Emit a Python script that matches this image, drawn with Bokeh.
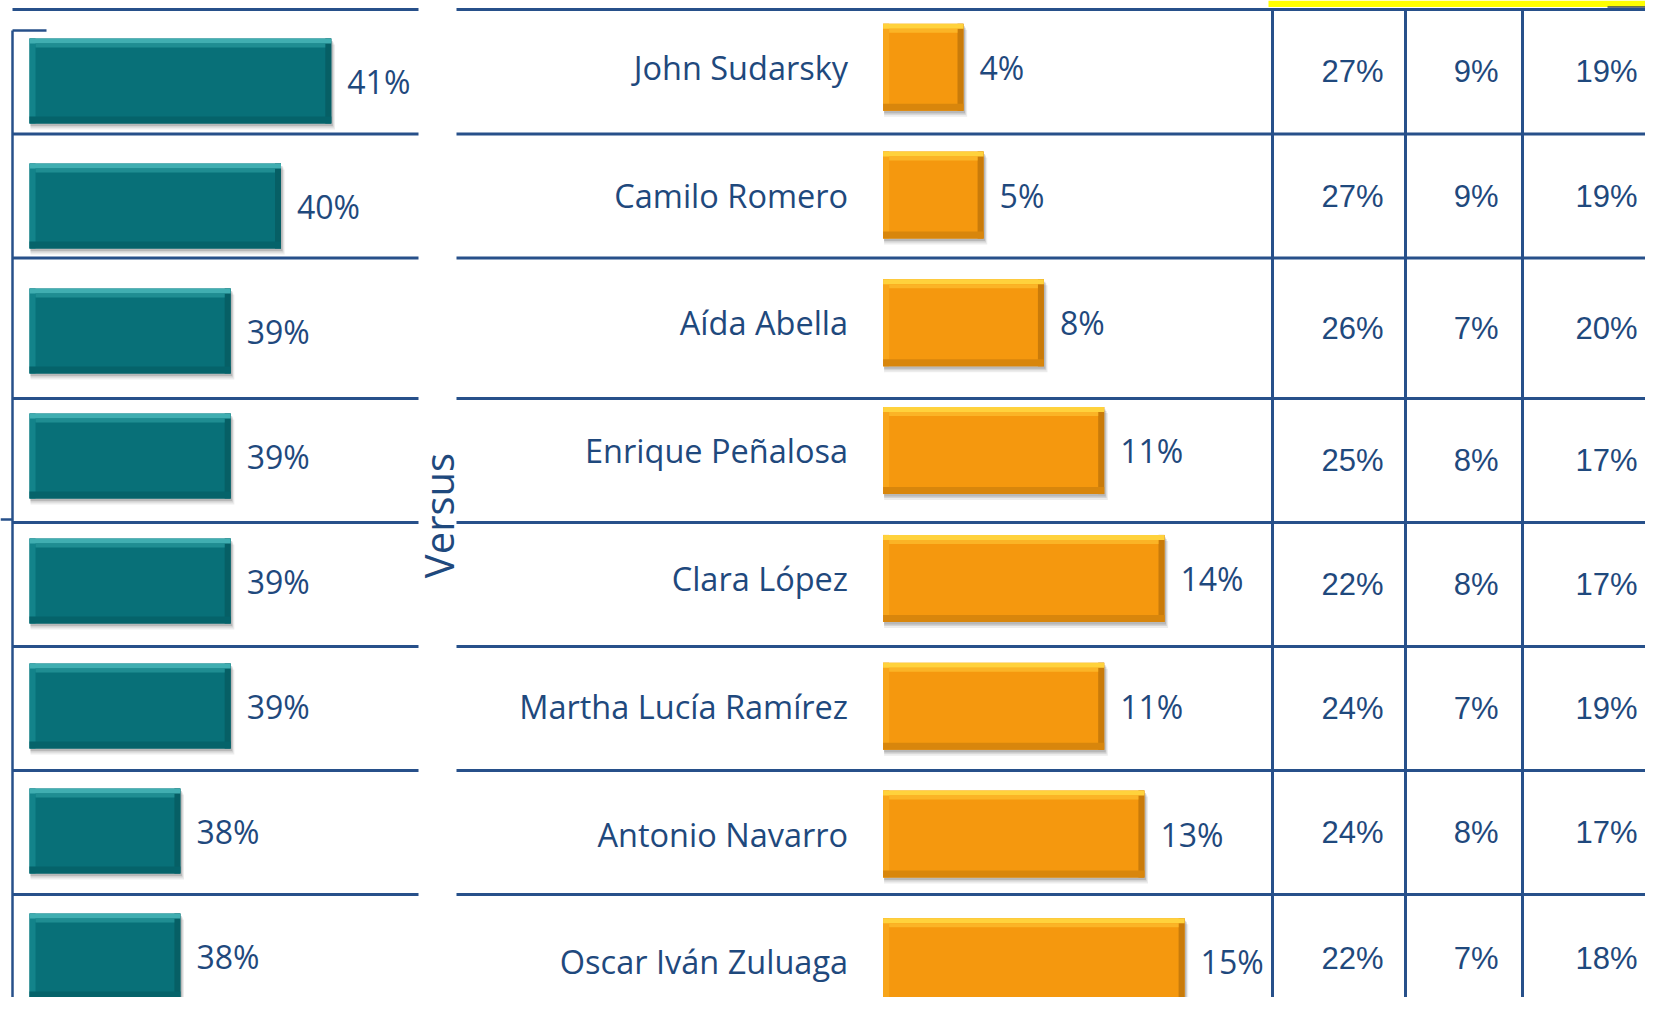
import math
from bokeh.plotting import figure
from bokeh.models import Range1d
from bokeh.embed import file_html
from bokeh.resources import INLINE
from bokeh.core.properties import value

# ---------------- data ----------------
candidates = ["John Sudarsky", "Camilo Romero", "Aída Abella", "Enrique Peñalosa",
              "Clara López", "Martha Lucía Ramírez", "Antonio Navarro", "Oscar Iván Zuluaga"]
teal_values = [41, 40, 39, 39, 39, 39, 38, 38]
orange_values = [4, 5, 8, 11, 14, 11, 13, 15]
table_col1 = [27, 27, 26, 25, 22, 24, 24, 22]
table_col2 = [9, 9, 7, 8, 8, 7, 8, 7]
table_col3 = [19, 19, 20, 17, 17, 19, 17, 18]

# ---------------- layout (pixel frame) ----------------
W, H = 1645, 997
X0, X1 = 0, W
Y0, Y1 = 0, H
TEXT = "#1F497D"
LINE = "#27508A"

# teal scale: baseline 35% at x=29, 50.3 px per point ; rows every 125 px from 80.5
T_BASE, T_X, T_K = 35.0, 29.0, 50.3
T_Y, T_S = 80.5, 125.0
# orange scale: 0% at x=882.6, 20.1 px per point ; rows every 127.8 px from 66.7
O_X, O_K = 882.6, 20.1
O_Y, O_S = 66.7, 127.8

p = figure(width=W, height=H, x_range=Range1d(X0, X1), y_range=Range1d(Y1, Y0),
           x_axis_type=None, y_axis_type=None, output_backend="svg",
           toolbar_location=None, min_border=0, outline_line_color=None,
           background_fill_color="white", border_fill_color="white")
p.grid.visible = False

p.extra_x_ranges = {
    "teal": Range1d(T_BASE + (X0 - T_X) / T_K, T_BASE + (X1 - T_X) / T_K),
    "orange": Range1d((X0 - O_X) / O_K, (X1 - O_X) / O_K),
}
p.extra_y_ranges = {
    "trow": Range1d((Y1 - T_Y) / T_S, (Y0 - T_Y) / T_S),
    "orow": Range1d((Y1 - O_Y) / O_S, (Y0 - O_Y) / O_S),
}

rows = list(range(len(candidates)))

# ---------------- header highlight ----------------
p.quad(left=[1268], right=[1700], top=[0], bottom=[6.5], fill_color="#FFFF00", line_color=None)
p.segment(x0=[1607], y0=[6.5], x1=[1700], y1=[6.5], line_color="#3A4A5A", line_width=1.5)

# ---------------- grid lines ----------------
band_edges = [9, 133.5, 257.5, 398, 522, 646, 770, 894, 1021]
hl = band_edges[:-1]
p.segment(x0=[12] * len(hl), y0=hl, x1=[418] * len(hl), y1=hl, line_color=LINE, line_width=3)
p.segment(x0=[456] * len(hl), y0=hl, x1=[1700] * len(hl), y1=hl, line_color=LINE, line_width=3)
for xv in [1272, 1405, 1522]:
    p.segment(x0=[xv], y0=[9], x1=[xv], y1=[1020], line_color=LINE, line_width=3)
# bracket
p.segment(x0=[12, 12, 12, 0], y0=[30, 30, 1005, 519], x1=[12, 46, 46, 12], y1=[1005, 30, 1005, 519],
          line_color=LINE, line_width=2.5)


def bevel_bars(values, base, xr, yr, kx, ky, height_px, cols):
    main, top, top2, left, bottom, right = cols
    h = height_px / ky
    bx = 6 / kx
    ys = rows
    n = len(ys)
    # soft shadow
    for dy, a in [(6, 0.12), (4, 0.18), (2.5, 0.25)]:
        p.hbar(y=[y + dy / ky for y in ys], left=[base + 1 / kx] * n,
               right=[v + (dy * 0.6) / kx for v in values], height=h,
               fill_color="#666666", fill_alpha=a, line_color=None,
               x_range_name=xr, y_range_name=yr)
    p.hbar(y=ys, left=[base] * n, right=values, height=h,
           fill_color=main, line_color=None, x_range_name=xr, y_range_name=yr)
    p.hbar(y=ys, left=[base] * n, right=[base + bx] * n, height=h,
           fill_color=left, line_color=None, x_range_name=xr, y_range_name=yr)
    p.hbar(y=ys, left=[v - bx for v in values], right=values, height=h,
           fill_color=right, line_color=None, x_range_name=xr, y_range_name=yr)
    p.hbar(y=[y - h / 2 + 2.5 / ky for y in ys], left=[base] * n, right=values, height=5 / ky,
           fill_color=top, line_color=None, x_range_name=xr, y_range_name=yr)
    p.hbar(y=[y - h / 2 + 7 / ky for y in ys], left=[base + bx] * n, right=[v - bx for v in values],
           height=4 / ky, fill_color=top2, line_color=None, x_range_name=xr, y_range_name=yr)
    p.hbar(y=[y + h / 2 - 3.5 / ky for y in ys], left=[base] * n, right=values, height=7 / ky,
           fill_color=bottom, line_color=None, x_range_name=xr, y_range_name=yr)


bevel_bars(teal_values, T_BASE, "teal", "trow", T_K, T_S, 85,
           ("#087078", "#40AEB1", "#1F8D92", "#13838A", "#05636A", "#065F65"))
bevel_bars(orange_values, 0, "orange", "orow", O_K, O_S, 87,
           ("#F5980E", "#FFD23C", "#FBB426", "#F8A51A", "#D8860C", "#C97B0A"))

# ---------------- labels ----------------
p.text(x=teal_values, y=rows, text=[f"{v}%" for v in teal_values], x_offset=16,
       text_align="left", text_baseline="middle", text_color=TEXT,
       text_font=value("Open Sans"), text_font_size="32px",
       x_range_name="teal", y_range_name="trow")
p.text(x=orange_values, y=rows, text=[f"{v}%" for v in orange_values], x_offset=16,
       text_align="left", text_baseline="middle", text_color=TEXT,
       text_font=value("Open Sans"), text_font_size="32px",
       x_range_name="orange", y_range_name="orow")
p.text(x=[0] * len(rows), y=rows, text=candidates, x_offset=-35,
       text_align="right", text_baseline="middle", text_color=TEXT,
       text_font=value("Open Sans"), text_font_size="32.5px",
       x_range_name="orange", y_range_name="orow")

band_centers = [(band_edges[i] + band_edges[i + 1]) / 2 for i in rows]
for xr, col in [(1383, table_col1), (1498, table_col2), (1637, table_col3)]:
    p.text(x=[xr] * len(col), y=band_centers, text=[f"{v}%" for v in col],
           text_align="right", text_baseline="middle", text_color=TEXT,
           text_font=value("Liberation Sans"), text_font_size="31px")

p.text(x=[438], y=[515], text=["Versus"], angle=math.pi / 2,
       text_align="center", text_baseline="middle", text_color=TEXT,
       text_font=value("Open Sans"), text_font_size="40px")

open("out.html", "w").write(file_html(p, INLINE))
